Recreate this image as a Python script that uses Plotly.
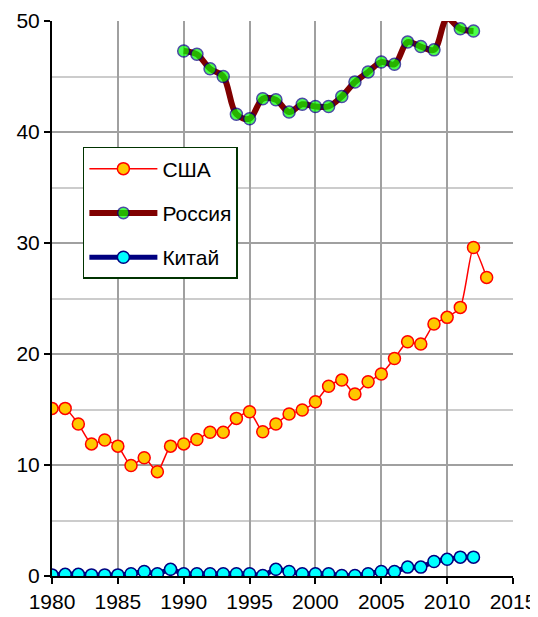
import plotly.graph_objects as go

years_usa = list(range(1980, 2014))
usa = [15.1, 15.1, 13.7, 11.9, 12.25, 11.7, 9.95, 10.65, 9.4, 11.7,
       11.9, 12.3, 12.95, 12.95, 14.2, 14.8, 13.0, 13.7, 14.6, 14.95,
       15.7, 17.1, 17.65, 16.4, 17.5, 18.2, 19.6, 21.1, 20.9, 22.7,
       23.3, 24.2, 29.6, 26.9]

years_rus = list(range(1990, 2013))
rus = [47.3, 47.0, 45.7, 45.0, 41.6, 41.2, 43.0, 42.9, 41.8, 42.5,
       42.3, 42.3, 43.2, 44.5, 45.4, 46.3, 46.1, 48.1, 47.7, 47.4,
       50.2, 49.3, 49.1]

years_chn = list(range(1980, 2013))
chn = [0.1, 0.15, 0.15, 0.1, 0.1, 0.1, 0.2, 0.4, 0.2, 0.6,
       0.2, 0.2, 0.2, 0.2, 0.2, 0.2, 0.05, 0.6, 0.4, 0.2,
       0.2, 0.2, 0.05, 0.05, 0.2, 0.4, 0.4, 0.8, 0.8, 1.3,
       1.5, 1.7, 1.7]

names = ["США", "Россия", "Китай"]
YMAX = 50

fig = go.Figure()
fig.add_trace(go.Scatter(
    x=years_usa, y=usa, name=names[0], mode="lines+markers",
    line=dict(color="#FF0000", width=1.5, shape="spline", smoothing=0.6),
    marker=dict(size=12, color="#FFC800", line=dict(color="#FF0000", width=1.5)),
    legendgroup="a"))
fig.add_trace(go.Scatter(
    x=years_rus, y=rus, name=names[1], mode="lines+markers",
    line=dict(color="#800000", width=6, shape="spline", smoothing=1),
    marker=dict(size=[0 if v > YMAX else 12 for v in rus], color="#00FF00",
                line=dict(color="#000080", width=1.5)),
    legendgroup="b"))
fig.add_trace(go.Scatter(
    x=years_chn, y=chn, name=names[2], mode="lines+markers",
    line=dict(color="#000080", width=5, shape="spline", smoothing=0.6),
    marker=dict(size=12, color="#00FFFF", line=dict(color="#000080", width=1.5)),
    legendgroup="c"))

font = dict(family="Liberation Sans, Arial, sans-serif", size=21, color="black")

fig.update_layout(
    width=530, height=609,
    margin=dict(l=44, r=25, t=13, b=41),
    paper_bgcolor="white", plot_bgcolor="white",
    font=font,
    showlegend=True,
    legend=dict(x=0.067, y=0.773, xanchor="left", yanchor="top",
                bordercolor="#003300", borderwidth=1.5, bgcolor="white",
                font=dict(family="Liberation Sans, Arial, sans-serif", size=21),
                tracegroupgap=14, itemwidth=68),
    xaxis=dict(range=[1980, 2015], dtick=5, tick0=1980, showgrid=True,
               gridcolor="#A0A0A0", gridwidth=1.5, automargin=False,
               showline=True, linecolor="black", linewidth=2,
               ticks="outside", ticklen=6, tickcolor="black", tickwidth=1.5,
               zeroline=False, tickfont=font),
    yaxis=dict(range=[0, YMAX], dtick=10, tick0=0, showgrid=True,
               gridcolor="#A0A0A0", gridwidth=1.5, automargin=False,
               minor=dict(dtick=5, showgrid=True, gridcolor="#CCCCCC", gridwidth=1.5),
               showline=True, linecolor="black", linewidth=2,
               ticks="outside", ticklen=6, tickcolor="black", tickwidth=1.5,
               zeroline=False, tickfont=font),
)

fig.write_html("out.html")
